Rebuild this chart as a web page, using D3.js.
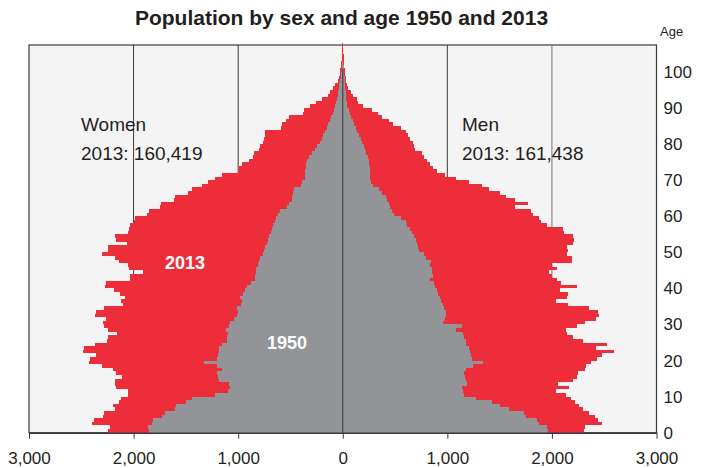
<!DOCTYPE html>
<html>
<head>
<meta charset="utf-8">
<script src="https://cdn.jsdelivr.net/npm/d3@7"></script>
<style>
  body { margin: 0; background: #fff; }
  svg { display: block; font-family: "Liberation Sans", Arial, Helvetica, sans-serif; }
</style>
</head>
<body>
<div id="chart"></div>
<script>
// single years of age, 0..107
const ages = d3.range(0, 108);

const women2013 = [
  2240, 2230, 2400, 2380, 2290, 2280, 2180, 2200, 2140, 2120,
  2050, 2050, 2170, 2175, 2180, 2110, 2170, 2200, 2300, 2430,
  2420, 2360, 2480, 2470, 2370, 2250, 2240, 2160, 2240, 2280,
  2290, 2260, 2370, 2360, 2280, 2100, 2120, 2080, 2130, 2190,
  2270, 2260, 2030, 2030, 1910, 2040, 2050, 2140, 2180, 2300,
  2240, 2240, 2060, 2170, 2175, 2050, 2040, 2030, 2000, 1990,
  1870, 1850, 1750, 1740, 1610, 1600, 1480, 1440, 1350, 1290,
  1220, 1150, 1000, 990, 960, 900, 855, 850, 805, 790,
  760, 755, 745, 740, 590, 580, 540, 517, 380, 373,
  310, 260, 200, 140, 118, 90, 70, 45, 38, 25,
  22, 18, 15, 10, 8, 5, 4, 3
];
const women1950 = [
  1850, 1860, 1820, 1810, 1730, 1700, 1600, 1590, 1500, 1440,
  1220, 1100, 1080, 1090, 1180, 1190, 1200, 1150, 1200, 1330,
  1200, 1190, 1185, 1180, 1150, 1110, 1105, 1100, 1120, 1090,
  1080, 1040, 1010, 1000, 1010, 970, 960, 980, 950, 930,
  920, 880, 840, 835, 830, 830, 810, 800, 790, 760,
  755, 740, 720, 710, 705, 690, 680, 670, 650, 640,
  615, 600, 530, 515, 490, 485, 480, 470, 400, 390,
  360, 358, 357, 355, 350, 345, 320, 290, 265, 245,
  220, 200, 185, 170, 155, 140, 125, 110, 95, 85,
  72, 65, 58, 50, 45, 38, 32, 25, 20, 15,
  10, 6, 3, 2, 1, 0, 0, 0
];
const men2013 = [
  2310, 2320, 2480, 2440, 2410, 2350, 2300, 2260, 2220, 2180,
  2130, 2040, 2160, 2060, 2200, 2240, 2250, 2320, 2330, 2370,
  2430, 2480, 2590, 2420, 2530, 2300, 2200, 2140, 2130, 2240,
  2320, 2420, 2450, 2440, 2350, 2150, 2040, 2140, 2150, 2080,
  2240, 2090, 2050, 2000, 1970, 2050, 2000, 2190, 2190, 2140,
  2150, 2140, 2200, 2210, 2200, 2120, 2110, 1950, 1900, 1875,
  1820, 1800, 1650, 1770, 1650, 1560, 1500, 1400, 1330, 1210,
  1080, 980, 900, 860, 830, 810, 780, 760, 690, 680,
  670, 640, 620, 600, 560, 480, 440, 380, 340, 280,
  190, 150, 140, 100, 80, 50, 40, 30, 28, 26,
  20, 16, 12, 10, 8, 6, 5, 4
];
const men1950 = [
  1960, 1950, 1880, 1860, 1750, 1730, 1590, 1500, 1430, 1270,
  1160, 1150, 1140, 1190, 1180, 1170, 1160, 1175, 1250, 1340,
  1240, 1230, 1220, 1210, 1180, 1175, 1160, 1150, 1080, 1140,
  960, 980, 990, 990, 970, 960, 940, 930, 910, 900,
  880, 870, 830, 860, 850, 850, 830, 840, 800, 780,
  730, 720, 710, 700, 680, 660, 640, 615, 600, 560,
  490, 475, 450, 440, 420, 410, 380, 345, 290, 268,
  265, 264, 262, 260, 255, 250, 240, 225, 215, 200,
  185, 170, 155, 140, 125, 110, 95, 80, 65, 55,
  45, 40, 35, 30, 28, 26, 24, 20, 18, 15,
  12, 8, 4, 2, 1, 0, 0, 0
];

const xTicks = [-3000, -2000, -1000, 0, 1000, 2000, 3000];
const ageTicks = [0, 10, 20, 30, 40, 50, 60, 70, 80, 90, 100];
const totals = {women: "160,419", men: "161,438"};

const W = 705, H = 468;
const red = '#ee2d3a', grey = '#939498', ink = '#231f20';

const svg = d3.select('#chart').append('svg').attr('width', W).attr('height', H);

const x = d3.scaleLinear().domain([-3000, 3000]).range([29, 656.5]);
const y = d3.scaleLinear().domain([0, 100]).range([432.7, 72]);
const plotTop = 45, plotBottom = y(0);

// plot background + frame
svg.append('rect')
  .attr('x', x(-3000)).attr('y', plotTop)
  .attr('width', x(3000) - x(-3000)).attr('height', plotBottom - plotTop)
  .attr('fill', '#f4f4f4').attr('stroke', '#3a3a3a').attr('stroke-width', 1.2);

// gridlines behind bars
svg.append('g').selectAll('line').data([-2000, -1000, 1000, 2000]).join('line')
  .attr('x1', d => x(d)).attr('x2', d => x(d))
  .attr('y1', plotTop).attr('y2', plotBottom)
  .attr('stroke', d => d === 2000 ? '#777' : '#3a3a3a').attr('stroke-width', 1);

function bars(values, side, color) {
  svg.append('g').attr('shape-rendering', 'crispEdges')
    .selectAll('rect').data(ages.filter(a => values[a] > 0)).join('rect')
    .attr('x', a => side < 0 ? x(-values[a]) : x(0))
    .attr('width', a => Math.abs(x(side * values[a]) - x(0)))
    .attr('y', a => y(a + 1))
    .attr('height', a => y(a) - y(a + 1))
    .attr('fill', color);
}

bars(women2013, -1, red);
bars(men2013, 1, red);
bars(women1950, -1, grey);
bars(men1950, 1, grey);

// centre line
svg.append('line')
  .attr('x1', x(0)).attr('x2', x(0))
  .attr('y1', y(101)).attr('y2', plotBottom)
  .attr('stroke', '#4a4a4a').attr('stroke-width', 1.3);

// bottom axis
const xAxis = svg.append('g').attr('transform', `translate(0,${plotBottom})`)
  .call(d3.axisBottom(x).tickValues(xTicks).tickSize(6).tickSizeOuter(0)
    .tickFormat(d => d3.format(',')(Math.abs(d))));
xAxis.select('.domain').attr('stroke', '#3a3a3a').attr('stroke-width', 1.5);
xAxis.selectAll('.tick line').attr('stroke', '#3a3a3a');
xAxis.selectAll('.tick text').attr('y', 19).attr('fill', ink)
  .style('font-size', '17px').style('font-family', '"Liberation Sans", Arial, sans-serif');

// age axis
const yAxis = svg.append('g').attr('transform', `translate(${x(3000)},0)`)
  .call(d3.axisRight(y).tickValues(ageTicks).tickSize(0).tickPadding(7));
yAxis.select('.domain').remove();
yAxis.selectAll('.tick text').attr('fill', ink)
  .style('font-size', '17px').style('font-family', '"Liberation Sans", Arial, sans-serif');

svg.append('text').attr('x', 660).attr('y', 36).attr('fill', ink)
  .style('font-size', '13px').text('Age');

// title
svg.append('text').attr('x', 341.5).attr('y', 25).attr('text-anchor', 'middle')
  .attr('fill', ink).style('font-size', '21px').style('font-weight', 'bold')
  .text('Population by sex and age 1950 and 2013');

// annotations
const notes = [
  {x: 81, y: 131, t: 'Women'},
  {x: 81, y: 160, t: `2013: ${totals.women}`},
  {x: 462, y: 131, t: 'Men'},
  {x: 462, y: 160, t: `2013: ${totals.men}`}
];
svg.append('g').selectAll('text').data(notes).join('text')
  .attr('x', d => d.x).attr('y', d => d.y).attr('fill', ink)
  .style('font-size', '19px').text(d => d.t);

svg.append('text').attr('x', 185).attr('y', 269).attr('text-anchor', 'middle')
  .attr('fill', '#fff').style('font-size', '18px').style('font-weight', 'bold').text('2013');
svg.append('text').attr('x', 287).attr('y', 349).attr('text-anchor', 'middle')
  .attr('fill', '#fff').style('font-size', '18px').style('font-weight', 'bold').text('1950');
</script>
</body>
</html>
